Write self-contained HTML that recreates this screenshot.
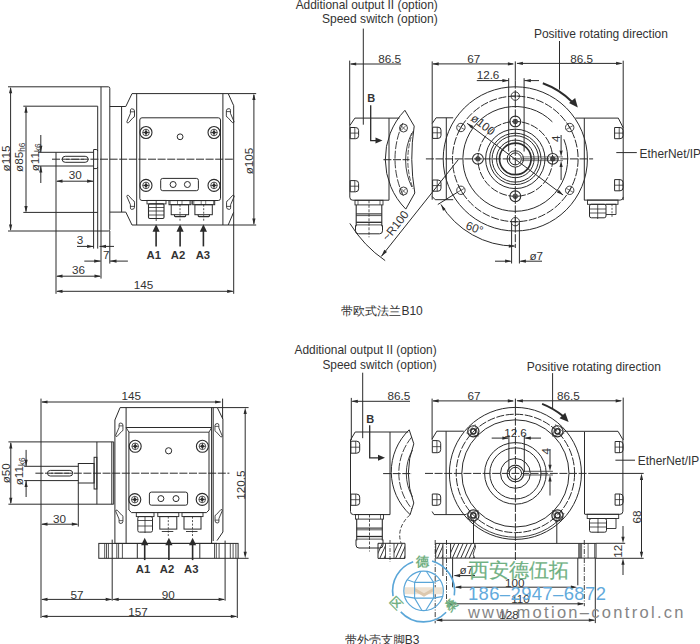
<!DOCTYPE html>
<html><head><meta charset="utf-8"><style>
html,body{margin:0;padding:0;background:#fff;width:700px;height:644px;overflow:hidden}
svg{display:block;font-family:"Liberation Sans",sans-serif}
svg text{fill:#333;stroke:none}
</style></head><body>
<svg width="700" height="644" viewBox="0 0 700 644">
<defs>
<clipPath id="hatchL"><rect x="378" y="543.3" width="27" height="15.1"/></clipPath>
<clipPath id="hatchM2"><path d="M450.6 543.4H474.6Q476.7 547 474.2 550.8Q472 554 474.6 558.1H450.6Z"/></clipPath>
</defs>
<g fill="none" stroke="#2b2b2b" stroke-width="1">
<line x1="8" y1="86.8" x2="108.3" y2="86.8"/>
<line x1="8" y1="231" x2="108.3" y2="231"/>
<path d="M108.3 86.8Q109.8 86.8 109.8 88.3V229.5Q109.8 231 108.3 231"/>
<line x1="10.6" y1="88" x2="10.6" y2="230"/>
<path d="M10.6 86.8L12.2 93.3L9 93.3Z" fill="#2b2b2b" stroke="none"/>
<path d="M10.6 231L9 224.5L12.2 224.5Z" fill="#2b2b2b" stroke="none"/>
<line x1="23.3" y1="106.2" x2="97.7" y2="106.2"/>
<line x1="23.3" y1="212.4" x2="97.7" y2="212.4"/>
<line x1="26" y1="107" x2="26" y2="211.5"/>
<path d="M26 106.2L27.6 112.7L24.4 112.7Z" fill="#2b2b2b" stroke="none"/>
<path d="M26 212.4L24.4 205.9L27.6 205.9Z" fill="#2b2b2b" stroke="none"/>
<line x1="38" y1="152.3" x2="93.6" y2="152.3"/>
<line x1="38" y1="166" x2="93.6" y2="166"/>
<line x1="40.8" y1="135" x2="40.8" y2="152.3"/>
<path d="M40.8 152.3L39.2 145.8L42.4 145.8Z" fill="#2b2b2b" stroke="none"/>
<line x1="40.8" y1="166" x2="40.8" y2="183"/>
<path d="M40.8 166L42.4 172.5L39.2 172.5Z" fill="#2b2b2b" stroke="none"/>
<line x1="101" y1="86.8" x2="101" y2="278.6"/>
<line x1="97.7" y1="106.2" x2="97.7" y2="248.6"/>
<line x1="93.6" y1="149.5" x2="93.6" y2="248.6"/>
<path d="M93.6 149.5H96.2Q97.7 149.5 97.7 151"/>
<path d="M93.6 168.6H96.2Q97.7 168.6 97.7 167"/>
<line x1="109.8" y1="231" x2="109.8" y2="263.6"/>
<line x1="56" y1="152.3" x2="56" y2="293.8"/>
<rect x="62.2" y="156.3" width="26" height="6" rx="3"/>
<line x1="66" y1="159.3" x2="84" y2="159.3" stroke-width="0.7"/>
<path d="M109.8 106.5H125.8L132 93.6H228.2L233.7 105.7V212.1L228.2 225H132L125.8 212.1H109.8"/>
<line x1="121.6" y1="106.5" x2="121.6" y2="212.1"/>
<line x1="136.7" y1="93.6" x2="136.7" y2="225"/>
<line x1="222.9" y1="93.6" x2="222.9" y2="225"/>
<line x1="228.2" y1="93.6" x2="256.2" y2="93.6"/>
<line x1="228.2" y1="225" x2="256.2" y2="225"/>
<line x1="233.7" y1="212.1" x2="233.7" y2="293.8"/>
<rect x="139.8" y="117.8" width="80.7" height="82.7" rx="2.2"/>
<circle cx="146" cy="132.5" r="6" stroke-width="1.1"/>
<circle cx="146" cy="132.5" r="3.3" stroke-width="0.8"/>
<path d="M146 130.3L148.2 132.5L146 134.7L143.8 132.5Z" fill="#2b2b2b" stroke="none"/>
<line x1="142.7" y1="132.5" x2="149.3" y2="132.5" stroke-width="0.8"/>
<line x1="146" y1="129.2" x2="146" y2="135.8" stroke-width="0.8"/>
<circle cx="214" cy="132.5" r="6" stroke-width="1.1"/>
<circle cx="214" cy="132.5" r="3.3" stroke-width="0.8"/>
<path d="M214 130.3L216.2 132.5L214 134.7L211.8 132.5Z" fill="#2b2b2b" stroke="none"/>
<line x1="210.7" y1="132.5" x2="217.3" y2="132.5" stroke-width="0.8"/>
<line x1="214" y1="129.2" x2="214" y2="135.8" stroke-width="0.8"/>
<circle cx="146" cy="185.4" r="6" stroke-width="1.1"/>
<circle cx="146" cy="185.4" r="3.3" stroke-width="0.8"/>
<path d="M146 183.2L148.2 185.4L146 187.6L143.8 185.4Z" fill="#2b2b2b" stroke="none"/>
<line x1="142.7" y1="185.4" x2="149.3" y2="185.4" stroke-width="0.8"/>
<line x1="146" y1="182.1" x2="146" y2="188.7" stroke-width="0.8"/>
<circle cx="214" cy="185.4" r="6" stroke-width="1.1"/>
<circle cx="214" cy="185.4" r="3.3" stroke-width="0.8"/>
<path d="M214 183.2L216.2 185.4L214 187.6L211.8 185.4Z" fill="#2b2b2b" stroke="none"/>
<line x1="210.7" y1="185.4" x2="217.3" y2="185.4" stroke-width="0.8"/>
<line x1="214" y1="182.1" x2="214" y2="188.7" stroke-width="0.8"/>
<circle cx="180.1" cy="136.8" r="2.9"/>
<rect x="160.7" y="178.4" width="37.7" height="12.3" rx="2"/>
<circle cx="173.1" cy="184.5" r="3"/>
<circle cx="187.4" cy="184.5" r="3"/>
<rect x="147" y="200.4" width="19" height="3.5" stroke-width="0.9"/>
<rect x="148.5" y="203.9" width="15.5" height="14.6" rx="1.2" stroke-width="1.1"/>
<line x1="148.5" y1="207.5" x2="164" y2="207.5" stroke-width="0.8"/>
<line x1="148.5" y1="211" x2="164" y2="211" stroke-width="0.8"/>
<line x1="148.5" y1="215" x2="164" y2="215" stroke-width="0.8"/>
<line x1="156.2" y1="200.4" x2="156.2" y2="221" stroke-width="0.8"/>
<rect x="169" y="200.6" width="22" height="4.1"/>
<line x1="170.2" y1="200.6" x2="170.2" y2="204.7" stroke-width="0.6"/>
<line x1="177.5" y1="200.6" x2="177.5" y2="204.7" stroke-width="0.6"/>
<line x1="182" y1="200.6" x2="182" y2="204.7" stroke-width="0.6"/>
<line x1="189.8" y1="200.6" x2="189.8" y2="204.7" stroke-width="0.6"/>
<rect x="171.2" y="204.7" width="17.4" height="10"/>
<path d="M174.5 214.7V215.8Q174.5 216.6 175.3 216.6H184.9Q185.7 216.6 185.7 215.8V214.7" stroke-width="1.1"/>
<line x1="180" y1="204.7" x2="180" y2="221" stroke-width="0.8" stroke-dasharray="2 1.5"/>
<rect x="192.7" y="200.6" width="22" height="4.1"/>
<line x1="193.9" y1="200.6" x2="193.9" y2="204.7" stroke-width="0.6"/>
<line x1="201.2" y1="200.6" x2="201.2" y2="204.7" stroke-width="0.6"/>
<line x1="205.7" y1="200.6" x2="205.7" y2="204.7" stroke-width="0.6"/>
<line x1="213.5" y1="200.6" x2="213.5" y2="204.7" stroke-width="0.6"/>
<rect x="194.9" y="204.7" width="17.4" height="10"/>
<path d="M198.2 214.7V215.8Q198.2 216.6 199 216.6H208.6Q209.4 216.6 209.4 215.8V214.7" stroke-width="1.1"/>
<line x1="203.7" y1="204.7" x2="203.7" y2="221" stroke-width="0.8" stroke-dasharray="2 1.5"/>
<line x1="52" y1="159.2" x2="234.4" y2="159.2" stroke-dasharray="8 1.6"/>
<g transform="translate(132.45 113) scale(1 1)"><path d="M-1 -4.2Q2.05 -4.4 2.05 -2V3Q2.05 4.4 0.5 4.8L-4 9.8Q-5.6 10.5 -5.6 8.8L-2.05 0.5V-2Q-2.05 -4.2 -1 -4.2Z" stroke-width="0.9"/><path d="M-2.05 -1.2H2.05" stroke-width="0.8"/></g>
<g transform="translate(132.45 205.2) scale(1 -1)"><path d="M-1 -4.2Q2.05 -4.4 2.05 -2V3Q2.05 4.4 0.5 4.8L-4 9.8Q-5.6 10.5 -5.6 8.8L-2.05 0.5V-2Q-2.05 -4.2 -1 -4.2Z" stroke-width="0.9"/><path d="M-2.05 -1.2H2.05" stroke-width="0.8"/></g>
<g transform="translate(228.4 112.8) scale(-1 1)"><path d="M-1 -4.2Q2.05 -4.4 2.05 -2V3Q2.05 4.4 0.5 4.8L-4 9.8Q-5.6 10.5 -5.6 8.8L-2.05 0.5V-2Q-2.05 -4.2 -1 -4.2Z" stroke-width="0.9"/><path d="M-2.05 -1.2H2.05" stroke-width="0.8"/></g>
<g transform="translate(228.6 205.2) scale(-1 -1)"><path d="M-1 -4.2Q2.05 -4.4 2.05 -2V3Q2.05 4.4 0.5 4.8L-4 9.8Q-5.6 10.5 -5.6 8.8L-2.05 0.5V-2Q-2.05 -4.2 -1 -4.2Z" stroke-width="0.9"/><path d="M-2.05 -1.2H2.05" stroke-width="0.8"/></g>
<line x1="156.1" y1="230" x2="156.1" y2="246.4" stroke-width="1.6"/>
<path d="M156.1 224.2L159.7 231.7L152.5 231.7Z" fill="#2b2b2b" stroke="none"/>
<line x1="180.1" y1="230" x2="180.1" y2="246.4" stroke-width="1.6"/>
<path d="M180.1 224.2L183.7 231.7L176.5 231.7Z" fill="#2b2b2b" stroke="none"/>
<line x1="203.4" y1="230" x2="203.4" y2="246.4" stroke-width="1.6"/>
<path d="M203.4 224.2L207 231.7L199.8 231.7Z" fill="#2b2b2b" stroke="none"/>
<text x="153.8" y="258.9" font-size="11.3" text-anchor="middle" font-weight="bold">A1</text>
<text x="178.1" y="258.9" font-size="11.3" text-anchor="middle" font-weight="bold">A2</text>
<text x="202.9" y="258.9" font-size="11.3" text-anchor="middle" font-weight="bold">A3</text>
<line x1="253.9" y1="95" x2="253.9" y2="223.8"/>
<path d="M253.9 93.6L255.5 100.1L252.3 100.1Z" fill="#2b2b2b" stroke="none"/>
<path d="M253.9 225L252.3 218.5L255.5 218.5Z" fill="#2b2b2b" stroke="none"/>
<text x="248.8" y="161" font-size="11.7" text-anchor="middle" transform="rotate(-90 248.8 161)" dy="4">ø105</text>
<line x1="57" y1="291.3" x2="232.7" y2="291.3"/>
<path d="M56 291.3L62.5 289.7L62.5 292.9Z" fill="#2b2b2b" stroke="none"/>
<path d="M233.7 291.3L227.2 292.9L227.2 289.7Z" fill="#2b2b2b" stroke="none"/>
<text x="143.5" y="289.3" font-size="11.7" text-anchor="middle">145</text>
<line x1="57" y1="276.2" x2="100" y2="276.2"/>
<path d="M56 276.2L62.5 274.6L62.5 277.8Z" fill="#2b2b2b" stroke="none"/>
<path d="M101 276.2L94.5 277.8L94.5 274.6Z" fill="#2b2b2b" stroke="none"/>
<text x="78.5" y="273.6" font-size="11.7" text-anchor="middle">36</text>
<line x1="84.3" y1="261.1" x2="100.7" y2="261.1"/>
<path d="M100.7 261.1L94.2 262.7L94.2 259.5Z" fill="#2b2b2b" stroke="none"/>
<line x1="110" y1="261.1" x2="127.9" y2="261.1"/>
<path d="M110 261.1L116.5 259.5L116.5 262.7Z" fill="#2b2b2b" stroke="none"/>
<text x="106.2" y="258.7" font-size="11.7" text-anchor="middle">7</text>
<line x1="77" y1="246.4" x2="93.6" y2="246.4"/>
<path d="M93.6 246.4L87.1 248L87.1 244.8Z" fill="#2b2b2b" stroke="none"/>
<line x1="99.5" y1="246.4" x2="114" y2="246.4"/>
<path d="M99.5 246.4L106 244.8L106 248Z" fill="#2b2b2b" stroke="none"/>
<text x="80" y="243.7" font-size="11.7" text-anchor="middle">3</text>
<line x1="57" y1="181.2" x2="93" y2="181.2"/>
<path d="M56 181.2L62.5 179.6L62.5 182.8Z" fill="#2b2b2b" stroke="none"/>
<path d="M93.6 181.2L87.1 182.8L87.1 179.6Z" fill="#2b2b2b" stroke="none"/>
<text x="75.3" y="178.8" font-size="11.7" text-anchor="middle">30</text>
<text x="9.6" y="158.5" font-size="11.7" text-anchor="middle" transform="rotate(-90 9.6 158.5)">ø115</text>
<text transform="translate(23.3 157.3) rotate(-90)" font-size="11.7" text-anchor="middle">ø85<tspan font-size="8.2" dy="1.5">h6</tspan></text>
<text transform="translate(39.1 157.3) rotate(-90)" font-size="11.7" text-anchor="middle">ø11<tspan font-size="8.2" dy="1.5">k6</tspan></text>
<text x="437.8" y="9.4" font-size="11.9" text-anchor="end">Additional output II (option)</text>
<text x="437.8" y="22.9" font-size="12.05" text-anchor="end">Speed switch (option)</text>
<line x1="363.3" y1="28.6" x2="363.3" y2="124.7"/>
<text x="533.9" y="38.2" font-size="12">Positive rotating direction</text>
<line x1="559.5" y1="41" x2="559.5" y2="89.6"/>
<line x1="349.7" y1="60.6" x2="349.7" y2="125.6"/>
<line x1="350.7" y1="64" x2="401.1" y2="64"/>
<path d="M349.7 64L356.2 62.4L356.2 65.6Z" fill="#2b2b2b" stroke="none"/>
<text x="389.7" y="62.8" font-size="11.7" text-anchor="middle">86.5</text>
<line x1="432.2" y1="61.4" x2="432.2" y2="199.7"/>
<line x1="433" y1="63.9" x2="513" y2="63.9"/>
<path d="M432.2 63.9L438.7 62.3L438.7 65.5Z" fill="#2b2b2b" stroke="none"/>
<path d="M514.4 63.9L507.9 65.5L507.9 62.3Z" fill="#2b2b2b" stroke="none"/>
<text x="473.8" y="62.6" font-size="11.7" text-anchor="middle">67</text>
<line x1="515.3" y1="61.4" x2="515.3" y2="80.6"/>
<line x1="517" y1="63.4" x2="621.5" y2="63.4"/>
<path d="M516.4 63.4L522.9 61.8L522.9 65Z" fill="#2b2b2b" stroke="none"/>
<path d="M622.6 63.4L616.1 65L616.1 61.8Z" fill="#2b2b2b" stroke="none"/>
<text x="581.7" y="62.8" font-size="11.7" text-anchor="middle">86.5</text>
<line x1="623.2" y1="60.7" x2="623.2" y2="200.1"/>
<line x1="476.8" y1="80.6" x2="508.5" y2="80.6"/>
<path d="M508.9 80.6L502.4 82.2L502.4 79Z" fill="#2b2b2b" stroke="none"/>
<line x1="524.3" y1="80.6" x2="539" y2="80.6"/>
<path d="M524.3 80.6L530.8 79L530.8 82.2Z" fill="#2b2b2b" stroke="none"/>
<text x="488" y="79" font-size="11.7" text-anchor="middle">12.6</text>
<line x1="508.7" y1="78.2" x2="508.7" y2="151.5"/>
<line x1="524.1" y1="78.2" x2="524.1" y2="151.5"/>
<path d="M389 118.1H354.9L349.8 125.6V197.2Q349.8 200.2 352.8 200.2H389V118.1"/>
<line x1="389" y1="118.1" x2="399.4" y2="118.1"/>
<path d="M350.2 127.5H355.6Q358.6 127.5 358.6 130.5V135.7Q358.6 138.7 355.6 138.7H350.2Z"/>
<line x1="354.82" y1="127.5" x2="354.82" y2="138.7" stroke-width="0.8"/>
<line x1="350.2" y1="133.1" x2="358.6" y2="133.1" stroke-width="0.8"/>
<path d="M350.2 180.6H355.6Q358.6 180.6 358.6 183.6V188.8Q358.6 191.8 355.6 191.8H350.2Z"/>
<line x1="354.82" y1="180.6" x2="354.82" y2="191.8" stroke-width="0.8"/>
<line x1="350.2" y1="186.2" x2="358.6" y2="186.2" stroke-width="0.8"/>
<text x="371.3" y="102.4" font-size="11" text-anchor="middle" font-weight="bold">B</text>
<path d="M370.7 105.2V140.6H377" stroke-width="1.3"/>
<path d="M382.5 140.6L375.5 143.6L375.5 137.6Z" fill="#2b2b2b" stroke="none"/>
<path d="M404.9 110.3A70.89 70.89 0 0 0 405.8 209.1L414.8 193A208.47 208.47 0 0 1 414.2 126.1Z"/>
<path d="M402.9 123A85.8 85.8 0 0 0 403.4 196" stroke-width="0.9" stroke-dasharray="8 1.6"/>
<path d="M411.8 133A61.88 61.88 0 0 0 411.8 187" stroke-width="0.9"/>
<path d="M413.2 131A80.56 80.56 0 0 0 413.2 189" stroke-width="0.8" stroke-dasharray="5 1.5"/>
<circle cx="403.5" cy="128" r="4" stroke-width="0.9"/>
<line x1="400.81" y1="125.31" x2="406.19" y2="130.69" stroke-width="0.7"/>
<line x1="406.19" y1="125.31" x2="400.81" y2="130.69" stroke-width="0.7"/>
<circle cx="403.5" cy="191" r="4" stroke-width="0.9"/>
<line x1="400.81" y1="188.31" x2="406.19" y2="193.69" stroke-width="0.7"/>
<line x1="406.19" y1="188.31" x2="400.81" y2="193.69" stroke-width="0.7"/>
<line x1="383.4" y1="159.7" x2="409.5" y2="159.7" stroke-dasharray="8 1.6"/>
<rect x="355" y="200.3" width="28" height="4.6" stroke-width="0.9"/>
<line x1="358" y1="200.3" x2="358" y2="204.9" stroke-width="0.7"/>
<line x1="380" y1="200.3" x2="380" y2="204.9" stroke-width="0.7"/>
<line x1="356.2" y1="204.9" x2="356.2" y2="226.3" stroke-width="1.1"/>
<line x1="381.8" y1="204.9" x2="381.8" y2="226.3" stroke-width="1.1"/>
<line x1="356.2" y1="213.9" x2="381.8" y2="213.9" stroke-width="1.1"/>
<line x1="356.2" y1="215.6" x2="381.8" y2="215.6" stroke-width="0.8"/>
<line x1="356.2" y1="222.3" x2="381.8" y2="222.3" stroke-width="1.3"/>
<line x1="356.2" y1="224.9" x2="381.8" y2="224.9" stroke-width="0.8"/>
<path d="M355.5 225.3V230.8Q355.5 233.8 358.5 233.8H379.5Q382.5 233.8 382.5 230.8V225.3"/>
<line x1="369" y1="200.3" x2="369" y2="237.3" stroke-width="0.8" stroke-dasharray="3 1.5"/>
<path d="M349.87 223.42A123.3 123.3 0 0 0 385.16 260.61"/>
<line x1="381.3" y1="256.4" x2="458.3" y2="159.6"/>
<path d="M381.3 256.4L384.33 249.86L386.99 251.98Z" fill="#2b2b2b" stroke="none"/>
<text transform="translate(398.5 228.2) rotate(-51.5)" font-size="11.7" text-anchor="middle">~R100</text>
<path d="M453.2 117.8H436.1L432.2 123.5"/>
<path d="M432.2 196.5L435.2 199.7H453.2"/>
<line x1="446.3" y1="117.8" x2="446.3" y2="199.7"/>
<path d="M432.6 127.2H438Q441 127.2 441 130.2V135.4Q441 138.4 438 138.4H432.6Z"/>
<line x1="437.22" y1="127.2" x2="437.22" y2="138.4" stroke-width="0.8"/>
<line x1="432.6" y1="132.8" x2="441" y2="132.8" stroke-width="0.8"/>
<path d="M432.6 180H438Q441 180 441 183V188.2Q441 191.2 438 191.2H432.6Z"/>
<line x1="437.22" y1="180" x2="437.22" y2="191.2" stroke-width="0.8"/>
<line x1="432.6" y1="185.6" x2="441" y2="185.6" stroke-width="0.8"/>
<path d="M575.4 118.1H618.3L623.2 127.8"/>
<line x1="584.1" y1="200.1" x2="620.2" y2="200.1"/>
<path d="M620.2 200.1Q623.2 200.1 623.2 197.1"/>
<line x1="584.3" y1="118.1" x2="584.3" y2="200.1"/>
<path d="M614.6 127.5H620Q623 127.5 623 130.5V135.7Q623 138.7 620 138.7H614.6Z"/>
<line x1="619.22" y1="127.5" x2="619.22" y2="138.7" stroke-width="0.8"/>
<line x1="614.6" y1="133.1" x2="623" y2="133.1" stroke-width="0.8"/>
<path d="M614.6 179.6H620Q623 179.6 623 182.6V187.8Q623 190.8 620 190.8H614.6Z"/>
<line x1="619.22" y1="179.6" x2="619.22" y2="190.8" stroke-width="0.8"/>
<line x1="614.6" y1="185.2" x2="623" y2="185.2" stroke-width="0.8"/>
<rect x="587.5" y="200.1" width="30.5" height="4.2" stroke-width="0.9"/>
<rect x="589.5" y="204.3" width="16.5" height="13.5" rx="1.8"/>
<line x1="589.5" y1="209" x2="606" y2="209" stroke-width="0.8"/>
<line x1="589.5" y1="213" x2="606" y2="213" stroke-width="0.8"/>
<path d="M606 204.3H616V214.5H606" stroke-width="0.9"/>
<line x1="597.7" y1="204.3" x2="597.7" y2="219" stroke-width="0.8"/>
<line x1="612" y1="204.3" x2="612" y2="217.8" stroke-width="0.8" stroke-dasharray="2 1.5"/>
<line x1="616.3" y1="152.6" x2="636.8" y2="152.6"/>
<text x="639.6" y="158.2" font-size="11.9">EtherNet/IP</text>
<circle cx="515.3" cy="158.9" r="72.1"/>
<circle cx="515.3" cy="158.9" r="62.8" stroke-dasharray="8 1.6"/>
<path d="M563.88 139.27A52.4 52.4 0 1 1 552.35 121.85"/>
<circle cx="515.3" cy="158.9" r="37.4" stroke-dasharray="8 1.6"/>
<circle cx="515.3" cy="158.9" r="29.7"/>
<circle cx="515.3" cy="158.9" r="25.7"/>
<circle cx="515.3" cy="158.9" r="23.2"/>
<circle cx="515.3" cy="158.9" r="18.8"/>
<circle cx="515.3" cy="158.9" r="15.8" stroke-width="1.7"/>
<circle cx="515.3" cy="158.9" r="8.2"/>
<circle cx="515.3" cy="158.9" r="6"/>
<circle cx="552.7" cy="158.9" r="5.4" stroke-width="1.1"/>
<circle cx="552.7" cy="158.9" r="2.4" stroke-width="0.6" fill="#555"/>
<circle cx="515.3" cy="196.3" r="5.4" stroke-width="1.1"/>
<circle cx="515.3" cy="196.3" r="2.4" stroke-width="0.6" fill="#555"/>
<circle cx="477.9" cy="158.9" r="5.4" stroke-width="1.1"/>
<circle cx="477.9" cy="158.9" r="2.4" stroke-width="0.6" fill="#555"/>
<circle cx="515.3" cy="121.5" r="5.4" stroke-width="1.1"/>
<circle cx="515.3" cy="121.5" r="2.4" stroke-width="0.6" fill="#555"/>
<circle cx="569.69" cy="190.3" r="4.2" stroke-width="0.9"/>
<line x1="566.23" y1="188.31" x2="573.14" y2="192.3" stroke-width="0.7"/>
<line x1="571.68" y1="186.84" x2="567.69" y2="193.76" stroke-width="0.7"/>
<circle cx="515.3" cy="221.7" r="4.2" stroke-width="0.9"/>
<line x1="515.3" y1="217.71" x2="515.3" y2="225.69" stroke-width="0.7"/>
<line x1="519.29" y1="221.7" x2="511.31" y2="221.7" stroke-width="0.7"/>
<circle cx="460.91" cy="190.3" r="4.2" stroke-width="0.9"/>
<line x1="464.37" y1="188.31" x2="457.46" y2="192.3" stroke-width="0.7"/>
<line x1="462.91" y1="193.76" x2="458.92" y2="186.84" stroke-width="0.7"/>
<circle cx="460.91" cy="127.5" r="4.2" stroke-width="0.9"/>
<line x1="464.37" y1="129.5" x2="457.46" y2="125.5" stroke-width="0.7"/>
<line x1="458.92" y1="130.96" x2="462.91" y2="124.04" stroke-width="0.7"/>
<circle cx="515.3" cy="96.1" r="4.2" stroke-width="0.9"/>
<line x1="515.3" y1="100.09" x2="515.3" y2="92.11" stroke-width="0.7"/>
<line x1="511.31" y1="96.1" x2="519.29" y2="96.1" stroke-width="0.7"/>
<circle cx="569.69" cy="127.5" r="4.2" stroke-width="0.9"/>
<line x1="566.23" y1="129.49" x2="573.14" y2="125.5" stroke-width="0.7"/>
<line x1="567.69" y1="124.04" x2="571.68" y2="130.96" stroke-width="0.7"/>
<line x1="425.9" y1="158.9" x2="593.1" y2="158.9" stroke-dasharray="8 1.6"/>
<line x1="515.3" y1="80.6" x2="515.3" y2="248" stroke-dasharray="8 1.6"/>
<line x1="522" y1="156.9" x2="563" y2="156.9" stroke-width="0.6"/>
<line x1="522" y1="160.6" x2="563" y2="160.6" stroke-width="0.6"/>
<line x1="561.1" y1="135" x2="561.1" y2="150.5"/>
<path d="M561.1 157.1L559.5 150.6L562.7 150.6Z" fill="#2b2b2b" stroke="none"/>
<line x1="561.1" y1="167" x2="561.1" y2="180"/>
<path d="M561.1 160.6L562.7 167.1L559.5 167.1Z" fill="#2b2b2b" stroke="none"/>
<text x="555.8" y="138.8" font-size="11.7" text-anchor="middle" transform="rotate(-90 555.8 138.8)" dy="4">4</text>
<line x1="467.1" y1="123.3" x2="563.1" y2="195"/>
<path d="M467.1 123.3L473.26 125.91L471.35 128.47Z" fill="#2b2b2b" stroke="none"/>
<path d="M563.1 195L556.94 192.39L558.85 189.83Z" fill="#2b2b2b" stroke="none"/>
<text transform="translate(480.6 127.8) rotate(36.8)" font-size="11.7" text-anchor="middle">ø100</text>
<path d="M514.54 246.1A87.2 87.2 0 0 1 440.95 204.46"/>
<path d="M515.3 246.1L508.8 247.7L508.8 244.5Z" fill="#2b2b2b" stroke="none"/>
<path d="M440.95 204.46L445.71 209.17L442.98 210.84Z" fill="#2b2b2b" stroke="none"/>
<line x1="457.41" y1="192.3" x2="437.8" y2="204.5"/>
<text transform="translate(473.2 231.8) rotate(20)" font-size="11.7" text-anchor="middle">60°</text>
<line x1="511.6" y1="222.4" x2="511.6" y2="263.5"/>
<line x1="519.4" y1="222.4" x2="519.4" y2="263.5"/>
<line x1="495" y1="261.2" x2="510.6" y2="261.2"/>
<path d="M511.6 261.2L505.1 262.8L505.1 259.6Z" fill="#2b2b2b" stroke="none"/>
<line x1="520.4" y1="261.2" x2="542" y2="261.2"/>
<path d="M519.4 261.2L525.9 259.6L525.9 262.8Z" fill="#2b2b2b" stroke="none"/>
<text x="529.4" y="259.8" font-size="11.7">ø7</text>
<path d="M542.83 83.25A80.5 80.5 0 0 1 572.22 101.98" stroke-width="2"/>
<path d="M577.8 107.38L568.99 102.98L575.16 97.89Z" fill="#2b2b2b" stroke="none"/>
<text x="341.4" y="315.4" font-size="12">带欧式法兰B10</text>
<line x1="41" y1="398.6" x2="41" y2="618"/>
<line x1="42" y1="402" x2="220.5" y2="402"/>
<path d="M41 402L47.5 400.4L47.5 403.6Z" fill="#2b2b2b" stroke="none"/>
<path d="M221.6 402L215.1 403.6L215.1 400.4Z" fill="#2b2b2b" stroke="none"/>
<text x="131.3" y="400.4" font-size="11.7" text-anchor="middle">145</text>
<line x1="222.6" y1="398.6" x2="222.6" y2="419"/>
<path d="M114.9 543.4V420L120.1 407.6H217.3L222.9 419.1V532L217 540.6"/>
<line x1="217.3" y1="407.6" x2="248.6" y2="407.6"/>
<line x1="126.1" y1="407.6" x2="126.1" y2="543.4"/>
<line x1="211.6" y1="407.6" x2="211.6" y2="543.4"/>
<line x1="126.1" y1="427.5" x2="211.6" y2="427.5"/>
<path d="M126.1 427.5L128.9 432.2H209L211.6 427.5" stroke-width="0.9"/>
<path d="M128.9 432.2V510L131.5 512.6H206.5L209 510V432.2"/>
<line x1="213.2" y1="407.6" x2="213.2" y2="541"/>
<g transform="translate(121 427) scale(0.95 0.95)"><path d="M-1 -4.2Q2.05 -4.4 2.05 -2V3Q2.05 4.4 0.5 4.8L-4 9.8Q-5.6 10.5 -5.6 8.8L-2.05 0.5V-2Q-2.05 -4.2 -1 -4.2Z" stroke-width="0.9"/><path d="M-2.05 -1.2H2.05" stroke-width="0.8"/></g>
<g transform="translate(121 519.5) scale(0.95 -0.95)"><path d="M-1 -4.2Q2.05 -4.4 2.05 -2V3Q2.05 4.4 0.5 4.8L-4 9.8Q-5.6 10.5 -5.6 8.8L-2.05 0.5V-2Q-2.05 -4.2 -1 -4.2Z" stroke-width="0.9"/><path d="M-2.05 -1.2H2.05" stroke-width="0.8"/></g>
<g transform="translate(216.9 427.5) scale(-0.95 0.95)"><path d="M-1 -4.2Q2.05 -4.4 2.05 -2V3Q2.05 4.4 0.5 4.8L-4 9.8Q-5.6 10.5 -5.6 8.8L-2.05 0.5V-2Q-2.05 -4.2 -1 -4.2Z" stroke-width="0.9"/><path d="M-2.05 -1.2H2.05" stroke-width="0.8"/></g>
<g transform="translate(217 519) scale(-0.95 -0.95)"><path d="M-1 -4.2Q2.05 -4.4 2.05 -2V3Q2.05 4.4 0.5 4.8L-4 9.8Q-5.6 10.5 -5.6 8.8L-2.05 0.5V-2Q-2.05 -4.2 -1 -4.2Z" stroke-width="0.9"/><path d="M-2.05 -1.2H2.05" stroke-width="0.8"/></g>
<circle cx="135.2" cy="446.3" r="6" stroke-width="1.1"/>
<circle cx="135.2" cy="446.3" r="3.3" stroke-width="0.8"/>
<path d="M135.2 444.1L137.4 446.3L135.2 448.5L133 446.3Z" fill="#2b2b2b" stroke="none"/>
<line x1="131.9" y1="446.3" x2="138.5" y2="446.3" stroke-width="0.8"/>
<line x1="135.2" y1="443" x2="135.2" y2="449.6" stroke-width="0.8"/>
<circle cx="202.4" cy="446.3" r="6" stroke-width="1.1"/>
<circle cx="202.4" cy="446.3" r="3.3" stroke-width="0.8"/>
<path d="M202.4 444.1L204.6 446.3L202.4 448.5L200.2 446.3Z" fill="#2b2b2b" stroke="none"/>
<line x1="199.1" y1="446.3" x2="205.7" y2="446.3" stroke-width="0.8"/>
<line x1="202.4" y1="443" x2="202.4" y2="449.6" stroke-width="0.8"/>
<circle cx="134.8" cy="499.6" r="6" stroke-width="1.1"/>
<circle cx="134.8" cy="499.6" r="3.3" stroke-width="0.8"/>
<path d="M134.8 497.4L137 499.6L134.8 501.8L132.6 499.6Z" fill="#2b2b2b" stroke="none"/>
<line x1="131.5" y1="499.6" x2="138.1" y2="499.6" stroke-width="0.8"/>
<line x1="134.8" y1="496.3" x2="134.8" y2="502.9" stroke-width="0.8"/>
<circle cx="202.2" cy="499.4" r="6" stroke-width="1.1"/>
<circle cx="202.2" cy="499.4" r="3.3" stroke-width="0.8"/>
<path d="M202.2 497.2L204.4 499.4L202.2 501.6L200 499.4Z" fill="#2b2b2b" stroke="none"/>
<line x1="198.9" y1="499.4" x2="205.5" y2="499.4" stroke-width="0.8"/>
<line x1="202.2" y1="496.1" x2="202.2" y2="502.7" stroke-width="0.8"/>
<circle cx="168.6" cy="450.8" r="3.1"/>
<rect x="149.4" y="492.1" width="38.2" height="13.1" rx="2"/>
<circle cx="160.9" cy="498.6" r="3"/>
<circle cx="176" cy="498.6" r="3"/>
<rect x="136.3" y="512.6" width="17.7" height="4" stroke-width="0.9"/>
<rect x="137.8" y="516.6" width="14.7" height="15.5" rx="1.6"/>
<line x1="137.8" y1="520.5" x2="152.5" y2="520.5" stroke-width="0.8"/>
<line x1="137.8" y1="526" x2="152.5" y2="526" stroke-width="0.8"/>
<line x1="145" y1="516.6" x2="145" y2="533" stroke-width="0.8"/>
<rect x="157.8" y="512.6" width="21" height="4" stroke-width="0.9"/>
<rect x="159.8" y="516.6" width="17" height="12.5"/>
<line x1="161.8" y1="531.5" x2="173.3" y2="531.5" stroke-width="0.9"/>
<line x1="168.3" y1="516.6" x2="168.3" y2="536" stroke-width="0.8" stroke-dasharray="2 1.5"/>
<rect x="182" y="512.6" width="21" height="4" stroke-width="0.9"/>
<rect x="184" y="516.6" width="17" height="12.5"/>
<line x1="186" y1="531.5" x2="197.5" y2="531.5" stroke-width="0.9"/>
<line x1="192.5" y1="516.6" x2="192.5" y2="536" stroke-width="0.8" stroke-dasharray="2 1.5"/>
<line x1="114.9" y1="543.4" x2="217" y2="543.4"/>
<line x1="144.7" y1="543" x2="144.7" y2="560.1" stroke-width="1.6"/>
<path d="M144.7 537.8L148.3 545.3L141.1 545.3Z" fill="#2b2b2b" stroke="none"/>
<line x1="168.9" y1="543" x2="168.9" y2="560.1" stroke-width="1.6"/>
<path d="M168.9 537.8L172.5 545.3L165.3 545.3Z" fill="#2b2b2b" stroke="none"/>
<line x1="192.6" y1="543" x2="192.6" y2="560.1" stroke-width="1.6"/>
<path d="M192.6 537.8L196.2 545.3L189 545.3Z" fill="#2b2b2b" stroke="none"/>
<text x="143.1" y="573.2" font-size="11.3" text-anchor="middle" font-weight="bold">A1</text>
<text x="167.1" y="573.2" font-size="11.3" text-anchor="middle" font-weight="bold">A2</text>
<text x="191.3" y="573.2" font-size="11.3" text-anchor="middle" font-weight="bold">A3</text>
<rect x="98.8" y="543.4" width="139.3" height="14.9"/>
<line x1="104.7" y1="543.4" x2="104.7" y2="558.3" stroke-width="0.8"/>
<line x1="106.5" y1="543.4" x2="106.5" y2="558.3" stroke-width="0.8"/>
<line x1="108.4" y1="543.4" x2="108.4" y2="558.3" stroke-width="0.8"/>
<line x1="116.8" y1="543.4" x2="116.8" y2="558.3" stroke-width="0.8"/>
<line x1="118.6" y1="543.4" x2="118.6" y2="558.3" stroke-width="0.8"/>
<line x1="122.4" y1="543.4" x2="122.4" y2="558.3" stroke-width="0.8"/>
<line x1="214.5" y1="543.4" x2="214.5" y2="558.3" stroke-width="0.8"/>
<line x1="216.3" y1="543.4" x2="216.3" y2="558.3" stroke-width="0.8"/>
<line x1="219.1" y1="543.4" x2="219.1" y2="558.3" stroke-width="0.8"/>
<line x1="230.3" y1="543.4" x2="230.3" y2="558.3" stroke-width="0.8"/>
<line x1="233.1" y1="543.4" x2="233.1" y2="558.3" stroke-width="0.8"/>
<line x1="235.9" y1="543.4" x2="235.9" y2="558.3" stroke-width="0.8"/>
<line x1="112.2" y1="539.6" x2="112.2" y2="600.7"/>
<line x1="225.1" y1="540.6" x2="225.1" y2="600.7"/>
<line x1="137.3" y1="543.4" x2="137.3" y2="558.3"/>
<line x1="199.8" y1="543.4" x2="199.8" y2="558.3"/>
<line x1="238.1" y1="558.3" x2="248.6" y2="558.3"/>
<line x1="237.3" y1="558.3" x2="237.3" y2="618"/>
<line x1="245.2" y1="411" x2="245.2" y2="555"/>
<path d="M245.2 407.6L246.8 414.1L243.6 414.1Z" fill="#2b2b2b" stroke="none"/>
<path d="M245.2 558.3L243.6 551.8L246.8 551.8Z" fill="#2b2b2b" stroke="none"/>
<text x="240.6" y="485.2" font-size="11.7" text-anchor="middle" transform="rotate(-90 240.6 485.2)" dy="4">120.5</text>
<line x1="8.4" y1="441.9" x2="113.7" y2="441.9"/>
<line x1="8.4" y1="504.2" x2="113.7" y2="504.2"/>
<line x1="96.9" y1="441.9" x2="96.9" y2="504.2"/>
<line x1="111.8" y1="441.9" x2="111.8" y2="504.2"/>
<line x1="113.7" y1="441.9" x2="113.7" y2="504.2"/>
<rect x="94.1" y="457.3" width="2.8" height="31.7"/>
<rect x="78.3" y="463.5" width="15.8" height="19.5"/>
<line x1="24.2" y1="466.3" x2="78.3" y2="466.3"/>
<line x1="24.2" y1="480.6" x2="78.3" y2="480.6"/>
<line x1="78.3" y1="483" x2="78.3" y2="526.6"/>
<rect x="47.5" y="470.4" width="25.2" height="5.6" rx="2.8"/>
<line x1="51" y1="473.2" x2="69" y2="473.2" stroke-width="0.7"/>
<line x1="35.4" y1="473.2" x2="229.4" y2="473.2" stroke-dasharray="8 1.6"/>
<line x1="10.8" y1="443" x2="10.8" y2="503"/>
<path d="M10.8 441.9L12.4 448.4L9.2 448.4Z" fill="#2b2b2b" stroke="none"/>
<path d="M10.8 504.2L9.2 497.7L12.4 497.7Z" fill="#2b2b2b" stroke="none"/>
<line x1="26.1" y1="449.9" x2="26.1" y2="466.3"/>
<path d="M26.1 466.3L24.5 459.8L27.7 459.8Z" fill="#2b2b2b" stroke="none"/>
<line x1="26.1" y1="480.6" x2="26.1" y2="497"/>
<path d="M26.1 480.6L27.7 487.1L24.5 487.1Z" fill="#2b2b2b" stroke="none"/>
<text x="10.3" y="473.2" font-size="11.7" text-anchor="middle" transform="rotate(-90 10.3 473.2)">ø50</text>
<text transform="translate(23 471.3) rotate(-90)" font-size="11.7" text-anchor="middle">ø11<tspan font-size="8.2" dy="1.5">k6</tspan></text>
<line x1="42" y1="524.2" x2="77.3" y2="524.2"/>
<path d="M41 524.2L47.5 522.6L47.5 525.8Z" fill="#2b2b2b" stroke="none"/>
<path d="M78.3 524.2L71.8 525.8L71.8 522.6Z" fill="#2b2b2b" stroke="none"/>
<text x="59.6" y="522.8" font-size="11.7" text-anchor="middle">30</text>
<line x1="42" y1="599.4" x2="111.4" y2="599.4"/>
<path d="M41 599.4L47.5 597.8L47.5 601Z" fill="#2b2b2b" stroke="none"/>
<path d="M112.2 599.4L105.7 601L105.7 597.8Z" fill="#2b2b2b" stroke="none"/>
<line x1="113.2" y1="599.4" x2="224.1" y2="599.4"/>
<path d="M112.2 599.4L118.7 597.8L118.7 601Z" fill="#2b2b2b" stroke="none"/>
<path d="M225.1 599.4L218.6 601L218.6 597.8Z" fill="#2b2b2b" stroke="none"/>
<text x="76.9" y="598.9" font-size="11.7" text-anchor="middle">57</text>
<text x="168.3" y="598.9" font-size="11.7" text-anchor="middle">90</text>
<line x1="42" y1="616.4" x2="236.3" y2="616.4"/>
<path d="M41 616.4L47.5 614.8L47.5 618Z" fill="#2b2b2b" stroke="none"/>
<path d="M237.3 616.4L230.8 618L230.8 614.8Z" fill="#2b2b2b" stroke="none"/>
<text x="138" y="616.2" font-size="11.7" text-anchor="middle">157</text>
<text x="436.6" y="354.1" font-size="11.9" text-anchor="end">Additional output II (option)</text>
<text x="436.6" y="368.9" font-size="11.88" text-anchor="end">Speed switch (option)</text>
<line x1="362.7" y1="372.7" x2="362.7" y2="438.2"/>
<text x="526.8" y="370.6" font-size="12">Positive rotating direction</text>
<line x1="552.6" y1="373.1" x2="552.6" y2="408"/>
<line x1="351.3" y1="397.9" x2="351.3" y2="440"/>
<line x1="352.3" y1="401.3" x2="410" y2="401.3"/>
<path d="M351.3 401.3L357.8 399.7L357.8 402.9Z" fill="#2b2b2b" stroke="none"/>
<text x="398.9" y="400" font-size="11.7" text-anchor="middle">86.5</text>
<line x1="432.1" y1="398.6" x2="432.1" y2="440"/>
<line x1="433" y1="400.9" x2="513" y2="400.9"/>
<path d="M432.1 400.9L438.6 399.3L438.6 402.5Z" fill="#2b2b2b" stroke="none"/>
<path d="M514.3 400.9L507.8 402.5L507.8 399.3Z" fill="#2b2b2b" stroke="none"/>
<text x="474" y="399.6" font-size="11.7" text-anchor="middle">67</text>
<line x1="517" y1="400.8" x2="621" y2="400.8"/>
<path d="M516.4 400.8L522.9 399.2L522.9 402.4Z" fill="#2b2b2b" stroke="none"/>
<path d="M622.2 400.8L615.7 402.4L615.7 399.2Z" fill="#2b2b2b" stroke="none"/>
<text x="568.3" y="399.6" font-size="11.7" text-anchor="middle">86.5</text>
<line x1="623.2" y1="397.6" x2="623.2" y2="440"/>
<line x1="515.4" y1="398.6" x2="515.4" y2="408"/>
<line x1="491.7" y1="438.1" x2="508" y2="438.1"/>
<path d="M508.9 438.1L502.4 439.7L502.4 436.5Z" fill="#2b2b2b" stroke="none"/>
<line x1="525.3" y1="438.1" x2="541" y2="438.1"/>
<path d="M524.3 438.1L530.8 436.5L530.8 439.7Z" fill="#2b2b2b" stroke="none"/>
<text x="515.5" y="436.8" font-size="11.7" text-anchor="middle">12.6</text>
<line x1="508.9" y1="435" x2="508.9" y2="472"/>
<line x1="524.3" y1="435" x2="524.3" y2="472"/>
<path d="M390 432H355.2L350.5 440V511.6Q350.5 514.6 353.5 514.6H390V432"/>
<line x1="390" y1="432" x2="408.3" y2="432"/>
<path d="M350.9 441.2H356.7Q359.7 441.2 359.7 444.2V450.2Q359.7 453.2 356.7 453.2H350.9Z"/>
<line x1="355.74" y1="441.2" x2="355.74" y2="453.2" stroke-width="0.8"/>
<line x1="350.9" y1="447.2" x2="359.7" y2="447.2" stroke-width="0.8"/>
<path d="M350.9 494.1H356.7Q359.7 494.1 359.7 497.1V502.3Q359.7 505.3 356.7 505.3H350.9Z"/>
<line x1="355.74" y1="494.1" x2="355.74" y2="505.3" stroke-width="0.8"/>
<line x1="350.9" y1="499.7" x2="359.7" y2="499.7" stroke-width="0.8"/>
<text x="370.3" y="423.3" font-size="11" text-anchor="middle" font-weight="bold">B</text>
<path d="M369.7 425.2V457.8H378" stroke-width="1.3"/>
<path d="M385 457.8L378 460.8L378 454.8Z" fill="#2b2b2b" stroke="none"/>
<path d="M409.2 429.8A58.11 58.11 0 0 0 410.1 514.6L413.8 503A85.3 85.3 0 0 1 413.8 443.8Z"/>
<path d="M411.8 437A56 56 0 0 0 412 509" stroke-width="0.9" stroke-dasharray="8 1.6"/>
<path d="M412.5 450A47.64 47.64 0 0 0 412.5 497" stroke-width="0.9"/>
<line x1="383.1" y1="473.6" x2="412" y2="473.6" stroke-dasharray="8 1.6"/>
<path d="M410.1 514.6Q396 528 401 543" stroke-width="0.9" stroke-dasharray="4 2"/>
<rect x="355.5" y="514.5" width="28" height="4.6" stroke-width="0.9"/>
<line x1="358.5" y1="514.5" x2="358.5" y2="519.1" stroke-width="0.7"/>
<line x1="380.5" y1="514.5" x2="380.5" y2="519.1" stroke-width="0.7"/>
<line x1="356.7" y1="519.1" x2="356.7" y2="540.5" stroke-width="1.1"/>
<line x1="382.3" y1="519.1" x2="382.3" y2="540.5" stroke-width="1.1"/>
<line x1="356.7" y1="528.1" x2="382.3" y2="528.1" stroke-width="1.1"/>
<line x1="356.7" y1="529.8" x2="382.3" y2="529.8" stroke-width="0.8"/>
<line x1="356.7" y1="536.5" x2="382.3" y2="536.5" stroke-width="1.3"/>
<line x1="356.7" y1="539.1" x2="382.3" y2="539.1" stroke-width="0.8"/>
<path d="M356 539.5V545Q356 548 359 548H380Q383 548 383 545V539.5"/>
<line x1="369.5" y1="514.5" x2="369.5" y2="551.5" stroke-width="0.8" stroke-dasharray="3 1.5"/>
<clipPath id="h460"><rect x="378.2" y="543.3" width="7.3" height="15.1"/></clipPath><path clip-path="url(#h460)" d="M371.4 558.4L378.2 543.3M375.6 558.4L382.4 543.3M379.8 558.4L386.6 543.3M384 558.4L390.8 543.3" stroke-width="0.95"/>
<clipPath id="h461"><rect x="394" y="543.3" width="11" height="15.1"/></clipPath><path clip-path="url(#h461)" d="M387.2 558.4L394 543.3M391.4 558.4L398.2 543.3M395.6 558.4L402.4 543.3M399.8 558.4L406.6 543.3M404 558.4L410.8 543.3" stroke-width="0.95"/>
<path d="M378 543.3H405V558.4H378Z"/>
<line x1="390" y1="540" x2="390" y2="562" stroke-width="0.8" stroke-dasharray="4 1.5 1 1.5"/>
<line x1="394" y1="543.3" x2="394" y2="558.4" stroke-width="0.8"/>
<line x1="385.5" y1="543.3" x2="385.5" y2="558.4" stroke-width="0.8"/>
<path d="M463.8 431.2H436.8L432.1 439"/>
<path d="M432.1 511.5L434 514.6H466.4"/>
<line x1="446.1" y1="431.2" x2="446.1" y2="514.6"/>
<path d="M432.3 440.6H437.7Q440.7 440.6 440.7 443.6V449.7Q440.7 452.7 437.7 452.7H432.3Z"/>
<line x1="436.92" y1="440.6" x2="436.92" y2="452.7" stroke-width="0.8"/>
<line x1="432.3" y1="446.65" x2="440.7" y2="446.65" stroke-width="0.8"/>
<path d="M432.3 494H437.7Q440.7 494 440.7 497V502.3Q440.7 505.3 437.7 505.3H432.3Z"/>
<line x1="436.92" y1="494" x2="436.92" y2="505.3" stroke-width="0.8"/>
<line x1="432.3" y1="499.65" x2="440.7" y2="499.65" stroke-width="0.8"/>
<path d="M564 431.3H618L622.9 439.6V511.3Q622.9 514.3 619.9 514.3H585"/>
<line x1="584.5" y1="431.8" x2="584.5" y2="514.3"/>
<path d="M615.1 441.5H620.1Q623.1 441.5 623.1 444.5V449.7Q623.1 452.7 620.1 452.7H615.1Z"/>
<line x1="619.5" y1="441.5" x2="619.5" y2="452.7" stroke-width="0.8"/>
<line x1="615.1" y1="447.1" x2="623.1" y2="447.1" stroke-width="0.8"/>
<path d="M615.1 494H620.1Q623.1 494 623.1 497V502.2Q623.1 505.2 620.1 505.2H615.1Z"/>
<line x1="619.5" y1="494" x2="619.5" y2="505.2" stroke-width="0.8"/>
<line x1="615.1" y1="499.6" x2="623.1" y2="499.6" stroke-width="0.8"/>
<rect x="587.2" y="514.3" width="31.5" height="4.2" stroke-width="0.9"/>
<rect x="589.5" y="518.5" width="17" height="13.7" rx="1.8"/>
<line x1="589.5" y1="523" x2="606.5" y2="523" stroke-width="0.8"/>
<line x1="589.5" y1="527" x2="606.5" y2="527" stroke-width="0.8"/>
<path d="M606.5 518.5H616V528.5H606.5" stroke-width="0.9"/>
<line x1="598" y1="518.5" x2="598" y2="533" stroke-width="0.8"/>
<line x1="615.4" y1="460.2" x2="635" y2="460.2"/>
<text x="637.8" y="464.9" font-size="11.9">EtherNet/IP</text>
<line x1="473.5" y1="519.5" x2="473.5" y2="543.4"/>
<line x1="556.8" y1="519.5" x2="556.8" y2="543.4"/>
<circle cx="515.4" cy="473.4" r="66"/>
<path d="M562.81 516.09A63.8 63.8 0 0 1 467.99 516.09" stroke-width="0.9"/>
<circle cx="515.4" cy="473.4" r="59.2" stroke-dasharray="8 1.6"/>
<circle cx="515.4" cy="473.4" r="53.6"/>
<circle cx="515.4" cy="473.4" r="30.8"/>
<circle cx="515.4" cy="473.4" r="25.6"/>
<circle cx="515.4" cy="473.4" r="14.9"/>
<circle cx="515.4" cy="473.4" r="8.3" stroke-width="1.1"/>
<circle cx="515.4" cy="473.4" r="6.1"/>
<circle cx="473.33" cy="431.33" r="5.6" stroke-width="1.2"/>
<circle cx="473.33" cy="431.33" r="2.6" stroke-width="1.5"/>
<path d="M478.28 436.28L475.14 424.57L466.57 433.14Z" stroke-width="0.6"/>
<circle cx="557.47" cy="431.33" r="5.6" stroke-width="1.2"/>
<circle cx="557.47" cy="431.33" r="2.6" stroke-width="1.5"/>
<path d="M552.52 436.28L564.23 433.14L555.66 424.57Z" stroke-width="0.6"/>
<circle cx="557.47" cy="515.47" r="5.6" stroke-width="1.2"/>
<circle cx="557.47" cy="515.47" r="2.6" stroke-width="1.5"/>
<path d="M552.52 510.52L555.66 522.23L564.23 513.66Z" stroke-width="0.6"/>
<circle cx="473.33" cy="515.47" r="5.6" stroke-width="1.2"/>
<circle cx="473.33" cy="515.47" r="2.6" stroke-width="1.5"/>
<path d="M478.28 510.52L466.57 513.66L475.14 522.23Z" stroke-width="0.6"/>
<line x1="425" y1="473.4" x2="590" y2="473.4" stroke-dasharray="8 1.6"/>
<line x1="515.4" y1="408" x2="515.4" y2="560" stroke-dasharray="8 1.6"/>
<line x1="523" y1="471.3" x2="552.9" y2="471.3" stroke-width="0.8"/>
<line x1="523" y1="475" x2="552.9" y2="475" stroke-width="0.8"/>
<line x1="550" y1="449" x2="550" y2="465"/>
<path d="M550 471.3L548.4 464.8L551.6 464.8Z" fill="#2b2b2b" stroke="none"/>
<line x1="550" y1="481" x2="550" y2="495.5"/>
<path d="M550 475L551.6 481.5L548.4 481.5Z" fill="#2b2b2b" stroke="none"/>
<text x="545.8" y="451.2" font-size="11.7" text-anchor="middle" transform="rotate(-90 545.8 451.2)" dy="4">4</text>
<path d="M542.1 403.85A74.5 74.5 0 0 1 563.29 416.33" stroke-width="2"/>
<path d="M568.63 422L559.5 418.3L565.26 412.74Z" fill="#2b2b2b" stroke="none"/>
<line x1="590" y1="473.4" x2="643.7" y2="473.4"/>
<line x1="641.5" y1="477" x2="641.5" y2="553"/>
<path d="M641.5 473.4L643.1 479.9L639.9 479.9Z" fill="#2b2b2b" stroke="none"/>
<path d="M641.5 558.3L639.9 551.8L643.1 551.8Z" fill="#2b2b2b" stroke="none"/>
<text x="636.8" y="517" font-size="11.7" text-anchor="middle" transform="rotate(-90 636.8 517)" dy="4">68</text>
<line x1="596" y1="543.3" x2="625.2" y2="543.3"/>
<line x1="596" y1="558.3" x2="643.7" y2="558.3"/>
<line x1="623" y1="526" x2="623" y2="537"/>
<path d="M623 543.3L621.4 536.8L624.6 536.8Z" fill="#2b2b2b" stroke="none"/>
<line x1="623" y1="564" x2="623" y2="575"/>
<path d="M623 558.3L624.6 564.8L621.4 564.8Z" fill="#2b2b2b" stroke="none"/>
<text x="618.2" y="551.2" font-size="11.7" text-anchor="middle" transform="rotate(-90 618.2 551.2)" dy="4">12</text>
<path d="M435.7 543.4H596V558.1H435.7Z"/>
<clipPath id="h538"><rect x="435.7" y="543.4" width="7.2" height="14.7"/></clipPath><path clip-path="url(#h538)" d="M429.08 558.1L435.7 543.4M433.28 558.1L439.9 543.4M437.48 558.1L444.1 543.4M441.68 558.1L448.3 543.4" stroke-width="0.95"/>
<g clip-path="url(#hatchM2)"><path d="M444 558.1L450.6 543.4M448.2 558.1L454.8 543.4M452.4 558.1L459 543.4M456.6 558.1L463.2 543.4M460.8 558.1L467.4 543.4M465 558.1L471.6 543.4M469.2 558.1L475.8 543.4M473.4 558.1L480 543.4" stroke-width="0.95"/></g>
<line x1="442.9" y1="543.4" x2="442.9" y2="576"/>
<line x1="450.6" y1="543.4" x2="450.6" y2="558.1"/>
<line x1="446.5" y1="540" x2="446.5" y2="604" stroke-width="0.9" stroke-dasharray="5 1.5 1 1.5"/>
<path d="M474.6 543.4Q476.7 547 474.2 550.8Q472 554 474.6 558.1" stroke-width="0.9"/>
<line x1="578.6" y1="543.4" x2="578.6" y2="558.1" stroke-width="0.7"/>
<line x1="579.6" y1="543.4" x2="579.6" y2="558.1" stroke-width="0.7"/>
<line x1="580.6" y1="543.4" x2="580.6" y2="558.1" stroke-width="0.7"/>
<line x1="581.6" y1="543.4" x2="581.6" y2="558.1" stroke-width="0.7"/>
<line x1="588.1" y1="543.4" x2="588.1" y2="558.1" stroke-width="0.7"/>
<line x1="594.6" y1="543.4" x2="594.6" y2="558.1" stroke-width="0.7"/>
<line x1="584.3" y1="540" x2="584.3" y2="606.2" stroke-width="0.9" stroke-dasharray="5 1.5 1 1.5"/>
<line x1="577.8" y1="558.1" x2="577.8" y2="585.3"/>
<line x1="595.3" y1="558.1" x2="595.3" y2="623.1"/>
<line x1="435.2" y1="540" x2="435.2" y2="623.3" stroke-width="0.9" stroke-dasharray="5 1.5 1 1.5"/>
<line x1="452.6" y1="558.1" x2="452.6" y2="587.3"/>
<line x1="454.6" y1="575.6" x2="475" y2="575.6"/>
<path d="M453.6 575.6L460.1 574L460.1 577.2Z" fill="#2b2b2b" stroke="none"/>
<text x="459.5" y="573.8" font-size="11.7">ø7</text>
<line x1="455.8" y1="587.2" x2="574" y2="587.2"/>
<path d="M454.8 587.2L461.3 585.6L461.3 588.8Z" fill="#2b2b2b" stroke="none"/>
<path d="M577.4 587.2L570.9 588.8L570.9 585.6Z" fill="#2b2b2b" stroke="none"/>
<text x="514.8" y="586.6" font-size="11.7" text-anchor="middle">100</text>
<line x1="447.5" y1="603.8" x2="583" y2="603.8"/>
<path d="M446.6 603.8L453.1 602.2L453.1 605.4Z" fill="#2b2b2b" stroke="none"/>
<path d="M584.1 603.8L577.6 605.4L577.6 602.2Z" fill="#2b2b2b" stroke="none"/>
<text x="520.5" y="602.8" font-size="11.7" text-anchor="middle">110</text>
<line x1="437.2" y1="620.2" x2="594.3" y2="620.2"/>
<path d="M435.8 620.2L442.3 618.6L442.3 621.8Z" fill="#2b2b2b" stroke="none"/>
<path d="M595.3 620.2L588.8 621.8L588.8 618.6Z" fill="#2b2b2b" stroke="none"/>
<text x="509" y="618.8" font-size="11.7" text-anchor="middle">128</text>
<text x="344.7" y="643.5" font-size="12">带外壳支脚B3</text>
<path d="M404.5 587.2H442.8V594.2H404.5Z" fill="#eee2d2" stroke="none"/>
<path d="M414.6 589.5L424 595L433.5 589.5" stroke="#dcc8ae" stroke-width="3" fill="none"/>
<circle cx="423.6" cy="590.9" r="19.8" stroke-width="1.2" stroke="#5aa6d8"/>
<path d="M421 571.3L414.6 582.4L407.2 579.8" stroke-width="1.1" stroke="#5aa6d8"/>
<path d="M426.3 571.3L433.5 582.4L440 579.8" stroke-width="1.1" stroke="#5aa6d8"/>
<path d="M414.6 582.4H433.5V598.1H414.6Z" stroke-width="1.1" stroke="#5aa6d8"/>
<path d="M404 596.4L414.6 598.1L421.8 610.3" stroke-width="1.1" stroke="#5aa6d8"/>
<path d="M443.2 596.4L433.5 598.1L425.9 610.3" stroke-width="1.1" stroke="#5aa6d8"/>
<path d="M393.03 596.02A31 31 0 0 1 413.2 561.7" stroke-width="1.6" stroke="#5aa6d8"/>
<path d="M432.04 561.07A31 31 0 0 1 454.29 595.27" stroke-width="1.6" stroke="#5aa6d8"/>
<path d="M446.12 612.2A31 31 0 0 1 400.74 611.84" stroke-width="1.6" stroke="#5aa6d8"/>
<text transform="translate(422.3 565.5)" font-size="13" font-weight="bold" text-anchor="middle" style="fill:#72b083">德</text>
<text transform="translate(396.8 603.3) rotate(45)" font-size="12" font-weight="bold" text-anchor="middle" style="fill:#72b083"><tspan dy="4.5">区</tspan></text>
<text transform="translate(450.8 604.5) rotate(-45)" font-size="12" font-weight="bold" text-anchor="middle" style="fill:#72b083"><tspan dy="4.5">桑</tspan></text>
<text x="468.5" y="576.8" font-size="20" style="fill:#6fb082;stroke:#6fb082;stroke-width:0.2">西安德伍拓</text>
<text x="467.9" y="600.2" font-size="18.4" style="fill:#62aadc" letter-spacing="0.42">186–2947–6872</text>
<text x="467.9" y="617.8" font-size="16.5" style="fill:#858585" letter-spacing="2.3">www.motion–control.cn</text>
</g>
</svg>
</body></html>
